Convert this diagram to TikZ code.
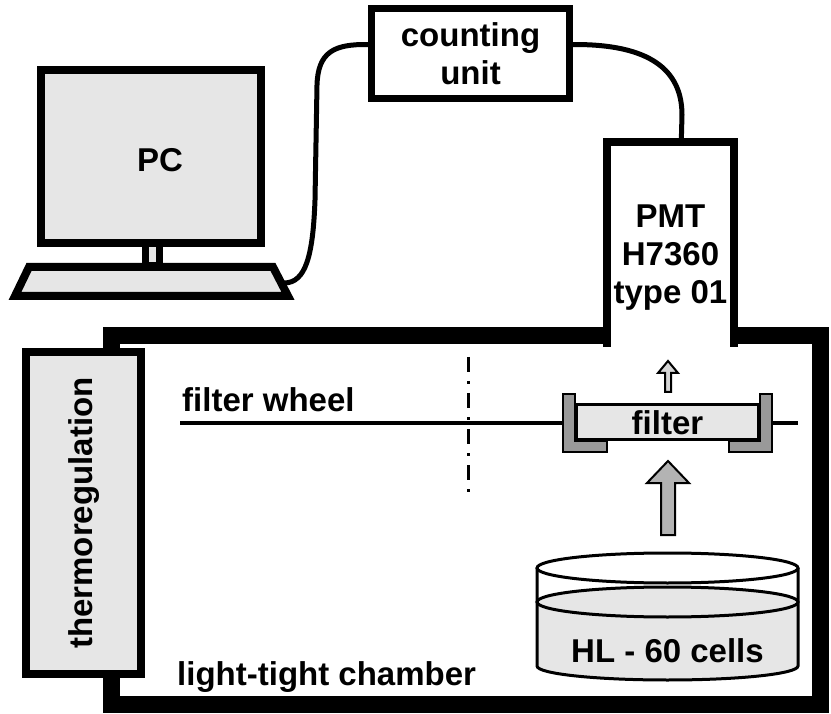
\documentclass[tikz,border=0pt]{standalone}
\usepackage{fontspec}
\setmainfont{Liberation Sans}
\usetikzlibrary{arrows.meta,positioning}
\definecolor{paleg}{HTML}{E6E6E6}
\definecolor{midg}{HTML}{B3B3B3}
\definecolor{darkg}{HTML}{999999}
\definecolor{smallg}{HTML}{D6D6D6}

\begin{document}
\begin{tikzpicture}[x=1pt,y=-1pt,
every node/.style={font=\fontsize{33}{38}\selectfont\bfseries,align=center,inner sep=0pt},
box/.style={draw,line width=8pt},
cable/.style={line width=5pt},
part/.style={draw,line width=2pt,line join=miter}]
\useasboundingbox (0,0) rectangle (831,714);
\node[box,line width=7pt,minimum width=198,minimum height=90] (cu) at (470.5,53.5) {counting\\unit};
\coordinate (kbd) at (284,283);
\draw[cable] (kbd) .. controls (306,283) and (313,255) .. (315,200) -- (317,85) .. controls (318,52) and (334,44) .. (cu.175);
\node[fill=white,outer sep=0pt,minimum width=127,minimum height=205] (pmt) at (670.5,244.5) {};
\draw[cable] (cu.5) .. controls (650,44) and (682,70) .. (682,115) -- (pmt.84);
\node[draw,line width=17pt,minimum width=709,minimum height=368] (chamber) at (465.5,520) {};
\node[fill=white,outer sep=0pt,minimum width=127,minimum height=205] at (pmt) {};
\draw[line width=8pt,line join=miter] (pmt.south west) -- (pmt.north west) -- (pmt.north east) -- (pmt.south east);
\node (pmtlbl) at (670.5,258) {PMT\\H7360\\type 01};
\node[box,fill=paleg,minimum width=115,minimum height=322] (thermo) at (83.5,513) {};
\node[rotate=90] at (84,513) {thermoregulation};
\node[anchor=base west] (chlbl) at (177,685) {light-tight chamber};
% filter wheel
\coordinate (wl) at (180,423);
\coordinate (wr) at (798,423);
\draw[line width=3.5pt] (wl) -- (wr);
\node[anchor=base west] (wlbl) at (182,412) {filter wheel};
\draw[line width=3pt,dash pattern=on 15pt off 9pt on 3pt off 9pt] (468,357) -- (468,497);
\node[draw,line width=3pt,fill=paleg,minimum width=182,minimum height=35] (filter) at (667.5,422) {};
\node[anchor=base] at (667.5,435) {filter};
\draw[part,fill=darkg] (563,394) -- (575,394) -- (575,441) -- (607,441) -- (607,452) -- (563,452) -- cycle;
\draw[part,fill=darkg] (772,394) -- (760,394) -- (760,441) -- (729,441) -- (729,452) -- (772,452) -- cycle;
\draw[part,fill=smallg] (668,361) -- (678,373) -- (671,373) -- (671,392) -- (665,392) -- (665,373) -- (658,373) -- cycle;
\draw[part,fill=midg] (668,461) -- (689,483) -- (675,483) -- (675,535) -- (661,535) -- (661,483) -- (647,483) -- cycle;
% petri dish
\fill[paleg] (537,602) -- (537,666) arc[start angle=180,end angle=0,x radius=130.5,y radius=14] -- (798,602) -- cycle;
\draw[line width=3pt,fill=paleg] (667.5,602) ellipse[x radius=130.5,y radius=15];
\draw[line width=3pt] (667.5,568) ellipse[x radius=130.5,y radius=15];
\draw[line width=3pt] (537,568) -- (537,666) arc[start angle=180,end angle=0,x radius=130.5,y radius=14] -- (798,568);
\node[anchor=base] (cells) at (667.5,662) {HL - 60 cells};
% computer
\draw[line width=7pt,fill=paleg] (145.5,244) rectangle (159.5,266);
\node[box,fill=paleg,minimum width=220,minimum height=173] (pc) at (151,156.5) {};
\node[anchor=base] at (160,172) {PC};
\draw[line width=8pt,fill=paleg,line join=miter] (29,267) -- (273,267) -- (288,296) -- (15,296) -- cycle;
\end{tikzpicture}
\end{document}
